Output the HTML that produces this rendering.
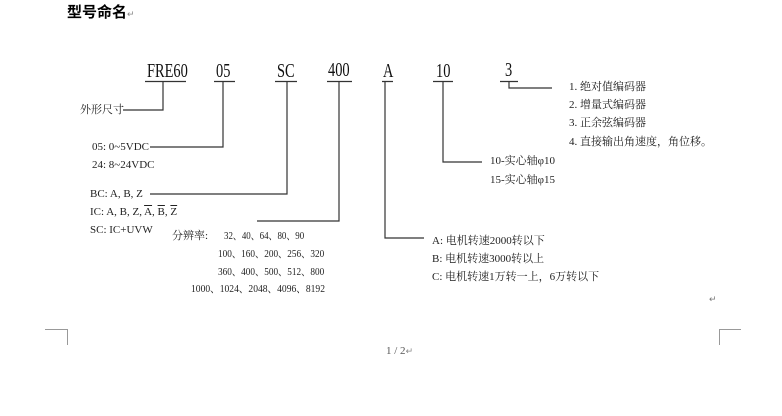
<!DOCTYPE html>
<html><head><meta charset="utf-8">
<style>
html,body{margin:0;padding:0;background:#fff;}
body{width:782px;height:416px;position:relative;overflow:hidden;font-family:"Liberation Serif","Noto Serif CJK SC",serif;color:#222;}
.t{position:absolute;white-space:nowrap;font-size:11px;line-height:12px;transform-origin:0 0;}
.c{position:absolute;white-space:nowrap;font-size:20px;line-height:20px;transform-origin:0 0;transform:scaleX(0.72);color:#111;}
.ov{text-decoration:overline;}
</style></head><body>
<div class="t" style="left:67px;top:4px;font-size:15px;line-height:17px;font-weight:bold;font-family:'Liberation Sans','Noto Sans CJK SC',sans-serif;color:#000;">型号命名<span style="font-size:9px;font-weight:normal;color:#888">↵</span></div>

<svg width="782" height="416" style="position:absolute;left:0;top:0" fill="none" stroke="#333" stroke-width="1.2">
<path d="M145 81.5H186M163 81.5V110H123"/>
<path d="M214 81.5H235M223 81.5V147H150"/>
<path d="M275 81.5H297M287 81.5V194H150"/>
<path d="M327 81.5H352M339 81.5V221H257"/>
<path d="M382 81.5H393M385 81.5V238H424"/>
<path d="M433 81.5H453M443 81.5V162H482"/>
<path d="M500 81.5H518M509 81.5V88H552"/>
<g stroke="#999" stroke-width="1"><path d="M45 329.5H67.5V345"/><path d="M741 329.5H719.5V345"/></g>
</svg>

<div class="c" style="left:147px;top:61px;">FRE60</div>
<div class="c" style="left:216px;top:61px;">05</div>
<div class="c" style="left:277px;top:61px;">SC</div>
<div class="c" style="left:328px;top:60px;">400</div>
<div class="c" style="left:383px;top:61px;">A</div>
<div class="c" style="left:436px;top:61px;">10</div>
<div class="c" style="left:505px;top:60px;">3</div>

<div class="t" style="left:80px;top:104px;">外形尺寸</div>
<div class="t" style="left:92px;top:141px;">05: 0~5VDC</div>
<div class="t" style="left:92px;top:159px;">24: 8~24VDC</div>
<div class="t" style="left:90px;top:188px;">BC: A, B, Z</div>
<div class="t" style="left:90px;top:206px;">IC: A, B, Z, <span class="ov">A</span>, <span class="ov">B</span>, <span class="ov">Z</span></div>
<div class="t" style="left:90px;top:224px;">SC: IC+UVW</div>
<div class="t" style="left:172px;top:230px;">分辨率:</div>
<div class="t" style="left:224px;top:230px;transform:scaleX(0.81)">32、40、64、80、90</div>
<div class="t" style="left:218px;top:248px;transform:scaleX(0.84)">100、160、200、256、320</div>
<div class="t" style="left:218px;top:266px;transform:scaleX(0.84)">360、400、500、512、800</div>
<div class="t" style="left:191px;top:283px;transform:scaleX(0.87)">1000、1024、2048、4096、8192</div>

<div class="t" style="left:432px;top:235px;">A: 电机转速2000转以下</div>
<div class="t" style="left:432px;top:253px;">B: 电机转速3000转以上</div>
<div class="t" style="left:432px;top:271px;">C: 电机转速1万转一上，6万转以下</div>

<div class="t" style="left:490px;top:155px;">10-实心轴φ10</div>
<div class="t" style="left:490px;top:174px;">15-实心轴φ15</div>

<div class="t" style="left:569px;top:81px;">1. 绝对值编码器</div>
<div class="t" style="left:569px;top:99px;">2. 增量式编码器</div>
<div class="t" style="left:569px;top:117px;">3. 正余弦编码器</div>
<div class="t" style="left:569px;top:136px;">4. 直接输出角速度，角位移。</div>

<div class="t" style="left:709px;top:293px;font-size:9px;color:#777">↵</div>
<div class="t" style="left:386px;top:345px;font-size:11px;color:#555">1 / 2<span style="font-size:9px;color:#888">↵</span></div>
</body></html>
